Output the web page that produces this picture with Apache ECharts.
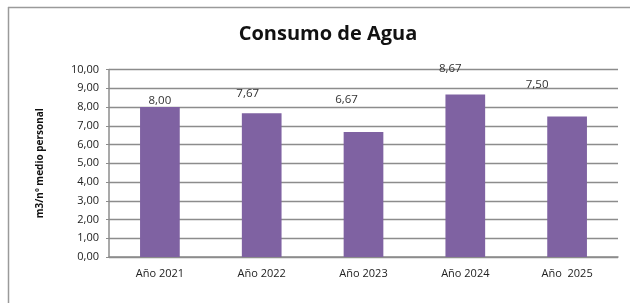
<!DOCTYPE html>
<html>
<head>
    <meta charset="utf-8">
    <title>Consumo de Agua</title>
    <script src="https://cdn.jsdelivr.net/npm/echarts@6/dist/echarts.min.js"></script>
    <style>
        html, body { margin: 0; padding: 0; background: #fff; }
        #main { width: 630px; height: 303px; }
    </style>
</head>
<body>
<div id="main"></div>
<script type="text/javascript">
    // datos del gráfico
    var years = ['Año 2021', 'Año 2022', 'Año 2023', 'Año 2024', 'Año  2025'];
    var consumo = [8.00, 7.67, 6.67, 8.67, 7.50];
    var yTicks = [0, 1, 2, 3, 4, 5, 6, 7, 8, 9, 10];

    // las etiquetas estaban movidas a mano en el original
    var labelShift = [[0, 0], [-14, -13], [-17, -26], [-15, -20], [-30, -26]];

    var myChart = echarts.init(document.getElementById('main'));

    var option = {
        animation: false,
        title: {
            text: 'Consumo de Agua',
            left: 323,
            top: 19,
            textAlign: 'center',
            textStyle: {
                fontFamily: 'Open Sans',
                fontSize: 20,
                fontWeight: 'bold',
                color: '#111'
            }
        },
        graphic: [
            { type: 'line', shape: { x1: 8, y1: 7.5, x2: 630, y2: 7.5 }, style: { stroke: '#9a9a9a', lineWidth: 1.5 } },
            { type: 'line', shape: { x1: 8.5, y1: 7, x2: 8.5, y2: 303 }, style: { stroke: '#9a9a9a', lineWidth: 1.5 } }
        ],
        grid: {
            left: 109,
            right: 12,
            top: 69.5,
            bottom: 46
        },
        xAxis: {
            type: 'category',
            data: years,
            axisLine: { lineStyle: { color: '#8c8c8c', width: 1.5 } },
            axisTick: { show: false },
            axisLabel: {
                fontFamily: 'Open Sans',
                fontSize: 11,
                color: '#222',
                margin: 11
            }
        },
        yAxis: {
            type: 'value',
            min: yTicks[0],
            max: yTicks[yTicks.length - 1],
            interval: 1,
            name: 'm3/nº medio personal',
            nameLocation: 'middle',
            nameGap: 64,
            nameTextStyle: {
                fontFamily: 'Open Sans',
                fontSize: 10,
                fontWeight: 'bold',
                color: '#111'
            },
            axisLine: { show: true, lineStyle: { color: '#8c8c8c', width: 1.5 } },
            axisTick: { show: true, length: 3, lineStyle: { color: '#8c8c8c' } },
            splitLine: { lineStyle: { color: '#8c8c8c', width: 1.3 } },
            axisLabel: {
                fontFamily: 'Open Sans',
                fontSize: 11,
                color: '#222',
                margin: 10,
                formatter: function (v) { return v.toFixed(2).replace('.', ','); }
            }
        },
        series: [
            {
                type: 'bar',
                barCategoryGap: '61%',
                data: consumo.map(function (v, i) {
                    return {
                        value: v,
                        label: { offset: labelShift[i] }
                    };
                }),
                itemStyle: { color: '#7f62a2' },
                label: {
                    show: true,
                    position: 'top',
                    distance: 0,
                    fontFamily: 'Open Sans',
                    fontSize: 11.5,
                    color: '#333',
                    formatter: function (p) { return p.value.toFixed(2).replace('.', ','); }
                }
            }
        ]
    };

    myChart.setOption(option);
</script>
</body>
</html>
